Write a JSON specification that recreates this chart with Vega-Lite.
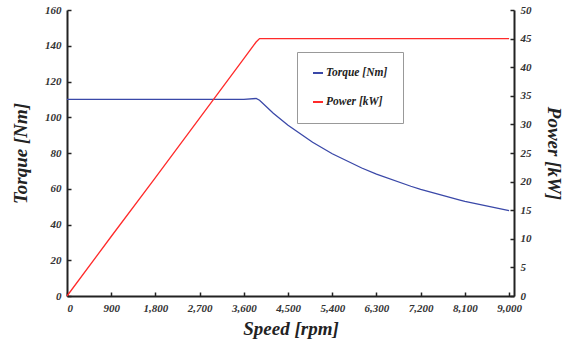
{
  "$schema": "https://vega.github.io/schema/vega-lite/v6.json",
  "width": 447,
  "height": 286,
  "autosize": {"type": "none"},
  "padding": {"left": 67, "top": 10, "right": 61, "bottom": 50},
  "background": "white",
  "config": {
    "view": {"stroke": null},
    "axis": {
      "grid": false,
      "domainColor": "#222",
      "domainWidth": 2,
      "tickColor": "#222",
      "tickWidth": 1.5,
      "tickSize": -4,
      "labelFont": "Liberation Serif",
      "labelFontWeight": "bold",
      "labelFontStyle": "italic",
      "labelFontSize": 11,
      "labelColor": "#333",
      "titleFont": "Liberation Serif",
      "titleFontWeight": "bold",
      "titleFontStyle": "italic",
      "titleFontSize": 19,
      "titleColor": "#222"
    },
    "legend": {
      "labelFont": "Liberation Serif",
      "labelFontWeight": "bold",
      "labelFontStyle": "italic",
      "labelFontSize": 11.5,
      "labelColor": "#222"
    }
  },
  "data": {
    "values": [
      {"speed": 0, "torque": 110, "power": 0},
      {"speed": 900, "torque": 110, "power": 10.4},
      {"speed": 1800, "torque": 110, "power": 20.7},
      {"speed": 2700, "torque": 110, "power": 31.1},
      {"speed": 3600, "torque": 110, "power": 41.5},
      {"speed": 3850, "torque": 110.5, "power": 44.4},
      {"speed": 3920, "torque": 109.5, "power": 45},
      {"speed": 4200, "torque": 102.3, "power": 45},
      {"speed": 4500, "torque": 95.5, "power": 45},
      {"speed": 5000, "torque": 86, "power": 45},
      {"speed": 5400, "torque": 79.6, "power": 45},
      {"speed": 6000, "torque": 71.6, "power": 45},
      {"speed": 6300, "torque": 68.2, "power": 45},
      {"speed": 7000, "torque": 61.4, "power": 45},
      {"speed": 7200, "torque": 59.7, "power": 45},
      {"speed": 8000, "torque": 53.7, "power": 45},
      {"speed": 8100, "torque": 53, "power": 45},
      {"speed": 9000, "torque": 47.7, "power": 45}
    ]
  },
  "encoding": {
    "x": {
      "field": "speed",
      "type": "quantitative",
      "scale": {"domain": [0, 9100], "nice": false},
      "axis": {
        "title": "Speed [rpm]",
        "values": [0, 900, 1800, 2700, 3600, 4500, 5400, 6300, 7200, 8100, 9000],
        "format": ",d",
        "labelPadding": 10,
        "titlePadding": 6
      }
    }
  },
  "layer": [
    {
      "mark": {"type": "line", "strokeWidth": 1.3},
      "encoding": {
        "y": {
          "field": "torque",
          "type": "quantitative",
          "scale": {"domain": [0, 160], "nice": false},
          "axis": {
            "title": "Torque [Nm]",
            "orient": "left",
            "values": [0, 20, 40, 60, 80, 100, 120, 140, 160],
            "labelPadding": 10,
            "titlePadding": 14
          }
        },
        "color": {
          "datum": "Torque [Nm]",
          "type": "nominal",
          "scale": {"domain": ["Torque [Nm]", "Power [kW]"], "range": ["#3a48a8", "#ff2a2a"]},
          "legend": {
            "title": null,
            "orient": "none",
            "legendX": 230,
            "legendY": 42,
            "symbolType": "stroke",
            "symbolSize": 100,
            "symbolStrokeWidth": 2,
            "labelOffset": 2,
            "padding": 15,
            "rowPadding": 17,
            "strokeColor": "#999",
            "fillColor": "white"
          }
        }
      }
    },
    {
      "mark": {"type": "line", "strokeWidth": 1.3},
      "encoding": {
        "y": {
          "field": "power",
          "type": "quantitative",
          "scale": {"domain": [0, 50], "nice": false},
          "axis": {
            "title": "Power [kW]",
            "orient": "right",
            "values": [0, 5, 10, 15, 20, 25, 30, 35, 40, 45, 50],
            "labelPadding": 10,
            "titlePadding": 12
          }
        },
        "color": {"datum": "Power [kW]", "type": "nominal"}
      }
    }
  ],
  "resolve": {"scale": {"y": "independent"}}
}
